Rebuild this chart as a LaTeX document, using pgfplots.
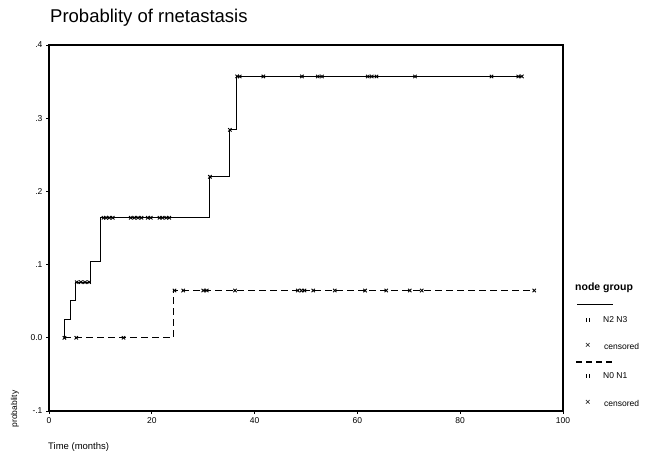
\documentclass[border=0pt]{standalone}
\usepackage{fontspec}
\setmainfont{Liberation Sans}
\usepackage{pgfplots}
\pgfplotsset{compat=1.18}

% survival-type step data
\pgfplotstableread{
t p
3.0 0.0
3.0 0.0255
4.1 0.051
5.2 0.0760
8.0 0.104
10.1 0.164
31.3 0.220
35.2 0.284
36.4 0.357
92.0 0.357
}\highstep
\pgfplotstableread{
t p
3.0 0.0
24.2 0.0646
94.4 0.0646
}\lowstep

\begin{document}
\begin{tikzpicture}[x=1pt,y=1pt]
\useasboundingbox (-49,-49) rectangle (603,411);
\begin{axis}[
  at={(0,0)}, anchor=south west,
  scale only axis, width=514pt, height=366pt,
  xmin=0, xmax=100, ymin=-0.1, ymax=0.4,
  xtick={0,20,...,100},
  ytick={-0.1,0,0.1,0.2,0.3,0.4},
  yticklabels={-.1,0.0,.1,.2,.3,.4},
  tick align=outside, xtick pos=left, ytick pos=left,
  major tick length=3pt,
  tick style={line width=0.9pt, black},
  tick label style={font=\fontsize{8.5}{9}\selectfont},
  /pgf/number format/assume math mode=true,
  axis line style={line width=1.1pt},
  clip=false,
]
  \addplot[const plot, black, line width=0.9pt] table {\highstep};
  \addplot[const plot, black, line width=1.1pt, dash pattern=on 7pt off 4pt] table {\lowstep};
  % censored, N2 N3
  \addplot[only marks, mark=x, mark size=2.4pt, black, mark options={line width=0.9pt}] coordinates {
    (5.4,0.076) (6.2,0.076) (7.0,0.076) (7.8,0.076)
    (10.6,0.164) (11.1,0.164) (11.7,0.164) (12.4,0.164)
    (15.9,0.164) (16.6,0.164) (17.3,0.164) (18.0,0.164)
    (19.2,0.164) (19.8,0.164) (21.5,0.164) (22.1,0.164) (22.8,0.164) (23.4,0.164)
    (31.3,0.220) (35.2,0.284)
    (36.6,0.357) (37.1,0.357) (41.7,0.357) (49.2,0.357) (52.3,0.357) (53.1,0.357)
    (62.0,0.357) (62.8,0.357) (63.7,0.357) (71.2,0.357) (86.1,0.357) (91.3,0.357) (92.0,0.357)
  };
  % censored, N0 N1
  \addplot[only marks, mark=x, mark size=2.4pt, black, mark options={line width=0.9pt}] coordinates {
    (3.0,0) (5.3,0) (14.5,0)
    (24.4,0.0646) (26.1,0.0646) (30.0,0.0646) (30.7,0.0646) (36.2,0.0646)
    (48.4,0.0646) (49.1,0.0646) (49.7,0.0646) (51.4,0.0646) (55.6,0.0646)
    (61.5,0.0646) (65.6,0.0646) (70.2,0.0646) (72.5,0.0646) (94.4,0.0646)
  };
\end{axis}
% titles and labels
\node[anchor=west, inner sep=0pt] at (1,393) {\fontsize{18.5}{20}\selectfont Probablity of rnetastasis};
\node[anchor=west, inner sep=0pt] at (-1,-36) {\fontsize{9.5}{10}\selectfont Time (months)};
\node[rotate=90, inner sep=0pt] at (-34,2) {\fontsize{8.5}{9}\selectfont probablity};
% legend
\node[anchor=west, inner sep=0pt] at (526,123) {\fontsize{10.5}{11}\selectfont\bfseries node group};
\draw[black, line width=1pt] (528,107) -- (564,107);
\draw[black, line width=0.6pt] (537,93) -- (537,89) (540,93) -- (540,89);
\node[anchor=west, inner sep=0pt] at (554,91) {\fontsize{8.5}{9}\selectfont N2 N3};
\node[inner sep=0pt] at (539,65) {\fontsize{9.5}{10}\selectfont ×};
\node[anchor=west, inner sep=0pt] at (555,65) {\fontsize{8.5}{9}\selectfont censored};
\draw[black, line width=1.1pt, dash pattern=on 6pt off 4pt] (527,49) -- (564,49);
\draw[black, line width=0.6pt] (537,37) -- (537,33) (540,37) -- (540,33);
\node[anchor=west, inner sep=0pt] at (554,35) {\fontsize{8.5}{9}\selectfont N0 N1};
\node[inner sep=0pt] at (539,8) {\fontsize{9.5}{10}\selectfont ×};
\node[anchor=west, inner sep=0pt] at (555,8) {\fontsize{8.5}{9}\selectfont censored};
\end{tikzpicture}
\end{document}
